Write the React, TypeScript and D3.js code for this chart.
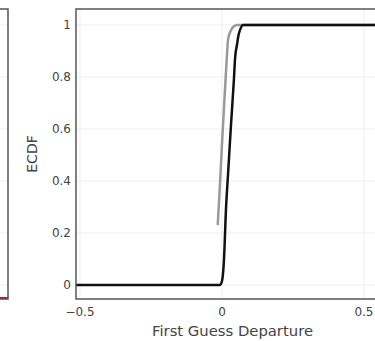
import React from "react";
import * as d3 from "d3";

// ECDF of first guess departure, two series
const blackDeparture = [-0.514, -0.008, 0.0, 0.007, 0.014, 0.021, 0.032, 0.042, 0.046, 0.053, 0.058, 0.065, 0.074, 0.6];
const blackEcdf = [0, 0, 0.015, 0.096, 0.29, 0.42, 0.62, 0.79, 0.87, 0.925, 0.96, 0.985, 1, 1];

const grayDeparture = [-0.015, -0.008, -0.001, 0.007, 0.0165, 0.021, 0.026, 0.032, 0.042, 0.053, 0.6];
const grayEcdf = [0.23, 0.37, 0.52, 0.68, 0.865, 0.94, 0.965, 0.98, 0.995, 1, 1];

const xTicks = [-0.5, 0, 0.5];
const xTickLabels = ["\u22120.5", "0", "0.5"];
const yTicks = [0, 0.2, 0.4, 0.6, 0.8, 1];
const yTickLabels = ["0", "0.2", "0.4", "0.6", "0.8", "1"];

const xTitle = "First Guess Departure";
const yTitle = "ECDF";

const W = 375;
const H = 341;
const FONT = "'DejaVu Sans', Verdana, sans-serif";

export default function App() {
  const left = 76;
  const top = 9;
  const bottom = 299;
  const x = d3.scaleLinear().domain([-0.514, 0.6]).range([left, left + 1.114 * 284]);
  const y = d3.scaleLinear().domain([-0.054, 1.0615]).range([bottom, top]);
  const right = x.range()[1];

  const line = d3
    .line<[number, number]>()
    .x((d) => x(d[0]))
    .y((d) => y(d[1]))
    .curve(d3.curveMonotoneX);

  const blackPts = blackDeparture.map((v, i) => [v, blackEcdf[i]] as [number, number]);
  const grayPts = grayDeparture.map((v, i) => [v, grayEcdf[i]] as [number, number]);

  return (
    <svg
      width={W}
      height={H}
      style={{ position: "absolute", left: 0, top: 0, background: "#fff" }}
      fontFamily={FONT}
    >
      {/* neighbouring panel edge */}
      {yTicks.map((t) => (
        <line key={"lg" + t} x1={-10} x2={8} y1={y(t)} y2={y(t)} stroke="#eee" strokeWidth={1} />
      ))}
      <line x1={-10} x2={8} y1={bottom - 1} y2={bottom - 1} stroke="#c0201a" strokeWidth={2} />
      <rect x={-10} y={top} width={18} height={bottom - top} fill="none" stroke="#555" strokeWidth={1.5} />

      {/* grid */}
      {yTicks.map((t) => (
        <line key={"gy" + t} x1={left} x2={right} y1={y(t)} y2={y(t)} stroke="#eee" strokeWidth={1} />
      ))}
      {xTicks.map((t) => (
        <line key={"gx" + t} x1={x(t)} x2={x(t)} y1={top} y2={bottom} stroke="#eee" strokeWidth={1} />
      ))}

      {/* series */}
      <path d={line(grayPts) ?? ""} fill="none" stroke="#999" strokeWidth={2.5} />
      <path d={line(blackPts) ?? ""} fill="none" stroke="#111" strokeWidth={2.5} />

      {/* frame */}
      <rect x={left} y={top} width={right - left} height={bottom - top} fill="none" stroke="#555" strokeWidth={1.5} />

      {/* y ticks */}
      {yTicks.map((t, i) => (
        <text key={"ty" + t} x={left - 5} y={y(t)} dy="0.35em" textAnchor="end" fontSize={12} fill="#444">
          {yTickLabels[i]}
        </text>
      ))}
      {/* x ticks */}
      {xTicks.map((t, i) => (
        <text key={"tx" + t} x={x(t)} y={bottom + 17} textAnchor="middle" fontSize={12} fill="#444">
          {xTickLabels[i]}
        </text>
      ))}

      <text x={232.5} y={336} textAnchor="middle" fontSize={14.8} fill="#444">
        {xTitle}
      </text>
      <text
        transform={`translate(${37},${(top + bottom) / 2}) rotate(-90)`}
        textAnchor="middle"
        fontSize={14}
        fill="#444"
      >
        {yTitle}
      </text>
    </svg>
  );
}
